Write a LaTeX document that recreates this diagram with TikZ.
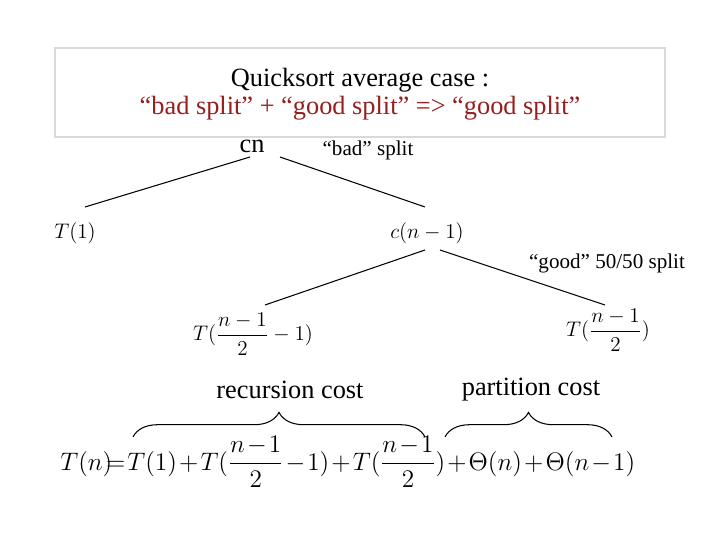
\documentclass[tikz,border=0pt]{standalone}
\usepackage{amsmath}
\usepackage{fontspec}
\setmainfont{Liberation Serif}
\usetikzlibrary{decorations.pathreplacing}
\begin{document}
\begin{tikzpicture}[x=0.02cm,y=-0.02cm,
  big/.style={inner sep=0pt,font=\fontsize{15}{18}\selectfont},
  mth/.style={inner sep=0pt,font=\fontsize{12}{14}\selectfont},
  edge/.style={draw=black,line width=0.6pt},
  br/.style={decorate,decoration={brace,amplitude=14pt},line width=0.6pt}]
\useasboundingbox (0,0) rectangle (720,540);
\draw[draw=black!15,line width=0.8pt] (55,48) rectangle (665,137);
\node[big] (t1) at (360,80) {Quicksort average case :};
\node[big,text={rgb,255:red,150;green,30;blue,30}] (t2) at (360,108) {“bad split” + “good split” => “good split”};
\node[big] (cn) at (252,146) {cn};
\node[mth] (bs) at (368,150) {“bad” split};
\coordinate (a1) at (250,157); \coordinate (a2) at (85,207);
\coordinate (b1) at (280,157); \coordinate (b2) at (425,207);
\draw[edge] (a1) -- (a2); \draw[edge] (b1) -- (b2);
\node[mth] (T1) at (75,233) {$T(1)$};
\node[mth] (cn1) at (427,233) {$c(n-1)$};
\node[mth] (gs) at (607,263) {“good” 50/50 split};
\coordinate (c1) at (425,250); \coordinate (c2) at (265,305);
\coordinate (d1) at (440,250); \coordinate (d2) at (605,305);
\draw[edge] (c1) -- (c2); \draw[edge] (d1) -- (d2);
\node[mth] (L) at (253,334) {$T(\dfrac{n-1}{2}-1)$};
\node[mth] (R) at (608,330) {$T(\dfrac{n-1}{2})$};
\node[big] (rc) at (290,390) {recursion cost};
\node[big] (pc) at (531,390) {partition cost};
\coordinate (e1) at (133,437); \coordinate (e2) at (425,437);
\coordinate (f1) at (445,437); \coordinate (f2) at (612,437);
\draw[br] (e1) -- (e2); \draw[br] (f1) -- (f2);
\node[inner sep=0pt,font=\fontsize{14}{17}\selectfont,anchor=west] (eq) at (60,462)
 {$\medmuskip=1.5mu\thickmuskip=1.5mu T(n)\!\!=T(1)+T(\dfrac{n-1}{2}-1)+T(\dfrac{n-1}{2})+\Theta(n)+\Theta(n-1)$};
\end{tikzpicture}
\end{document}
